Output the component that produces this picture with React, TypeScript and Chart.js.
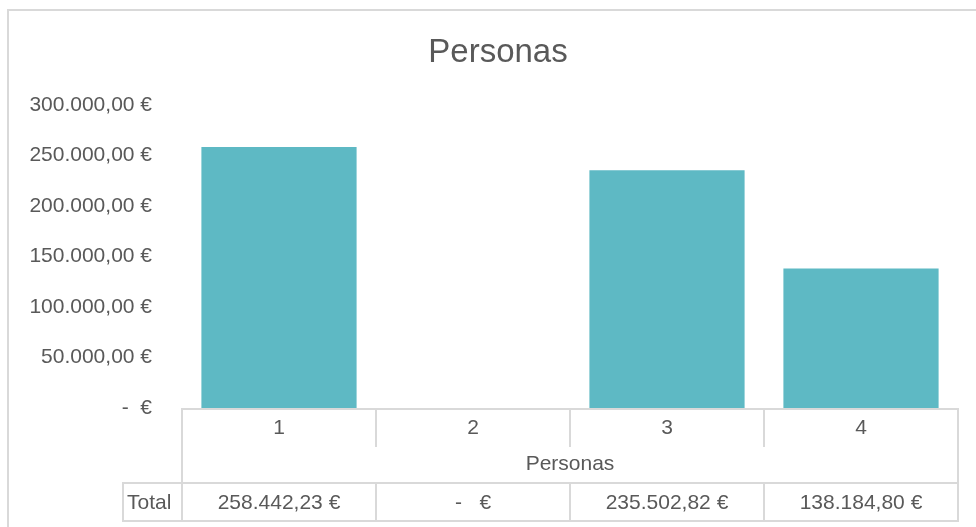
import React, { useEffect, useRef } from "react";
import { Chart, registerables } from "chart.js";

Chart.register(...registerables);

const categories = ["1", "2", "3", "4"];
const totals = [258442.23, 0, 235502.82, 138184.8];
const seriesName = "Total";
const axisTitle = "Personas";
const chartTitle = "Personas";
const yMin = 0;
const yMax = 300000;
const yStep = 50000;

const TEXT = "#595959";
const LINE = "#d9d9d9";
const BAR = "#5EB9C4";
const FONT = "'Liberation Sans', Arial, sans-serif";

function euro(v: number, dashSpaces: number): string {
  if (v === 0) return "-" + " ".repeat(dashSpaces) + "€";
  return (
    v.toLocaleString("de-DE", { minimumFractionDigits: 2, maximumFractionDigits: 2 }) + " €"
  );
}

const tablePlugin = {
  id: "excelTable",
  beforeDraw(chart: any) {
    const ctx = chart.ctx;
    ctx.save();
    ctx.strokeStyle = LINE;
    ctx.lineWidth = 2;
    ctx.strokeRect(8, 10, chart.width + 20, chart.height + 20);
    ctx.fillStyle = TEXT;
    ctx.font = `33px ${FONT}`;
    ctx.textAlign = "center";
    ctx.textBaseline = "middle";
    ctx.fillText(chartTitle, 498, 53);
    ctx.restore();
  },
  afterDraw(chart: any) {
    const ctx = chart.ctx;
    const area = chart.chartArea;
    const xs = chart.scales.x;
    const left = area.left;
    const right = area.right;
    const n = categories.length;
    const cw = (right - left) / n;
    const y0 = area.bottom + 1;
    const r1 = y0 + 38;
    const r2 = y0 + 74;
    const r3 = y0 + 112;
    const totalLeft = left - 59;
    ctx.save();
    ctx.strokeStyle = LINE;
    ctx.lineWidth = 2;
    const line = (x1: number, y1: number, x2: number, y2: number) => {
      ctx.beginPath();
      ctx.moveTo(x1, y1);
      ctx.lineTo(x2, y2);
      ctx.stroke();
    };
    line(left - 1, y0, right + 1, y0);
    line(left, y0, left, r3);
    line(right, y0, right, r3);
    for (let i = 1; i < n; i++) {
      const b = left + cw * i;
      line(b, y0, b, r1);
      line(b, r2, b, r3);
    }
    line(totalLeft - 1, r2, right + 1, r2);
    line(totalLeft - 1, r3, right + 1, r3);
    line(totalLeft, r2, totalLeft, r3);

    ctx.fillStyle = TEXT;
    ctx.font = `21px ${FONT}`;
    ctx.textBaseline = "middle";
    ctx.textAlign = "center";
    categories.forEach((c, i) => {
      const cx = xs.getPixelForValue(i);
      ctx.fillText(c, cx, (y0 + r1) / 2);
      ctx.fillText(euro(totals[i], 3), cx, (r2 + r3) / 2 + 1);
    });
    ctx.fillText(axisTitle, (left + right) / 2, r1 + 17);
    ctx.textAlign = "left";
    ctx.fillText(seriesName, totalLeft + 4, (r2 + r3) / 2 + 1);
    ctx.restore();
  },
};

export default function App() {
  const ref = useRef<HTMLCanvasElement>(null);
  useEffect(() => {
    if (!ref.current) return;
    const chart = new Chart(ref.current, {
      type: "bar",
      data: {
        labels: categories,
        datasets: [
          {
            label: seriesName,
            data: totals,
            backgroundColor: BAR,
            borderWidth: 0,
            categoryPercentage: 0.8,
            barPercentage: 1,
          },
        ],
      },
      options: {
        animation: false,
        responsive: false,
        layout: { padding: { left: 0, right: 18, top: 105, bottom: 119 } },
        plugins: {
          legend: { display: false },
          tooltip: { enabled: false },
          title: { display: false },
        },
        scales: {
          x: { display: false },
          y: {
            min: yMin,
            max: yMax,
            grid: { display: false, drawTicks: false },
            border: { display: false },
            ticks: {
              stepSize: yStep,
              color: TEXT,
              padding: 30,
              font: { family: FONT, size: 21 },
              callback: (v: any) => euro(Number(v), 2),
            },
            afterFit: (s: any) => {
              s.width = 182;
            },
          },
        },
      },
      plugins: [tablePlugin],
    });
    return () => chart.destroy();
  }, []);
  return (
    <div style={{ position: "absolute", left: 0, top: 0, width: 976, height: 527 }}>
      <canvas ref={ref} width={976} height={527} />
    </div>
  );
}
